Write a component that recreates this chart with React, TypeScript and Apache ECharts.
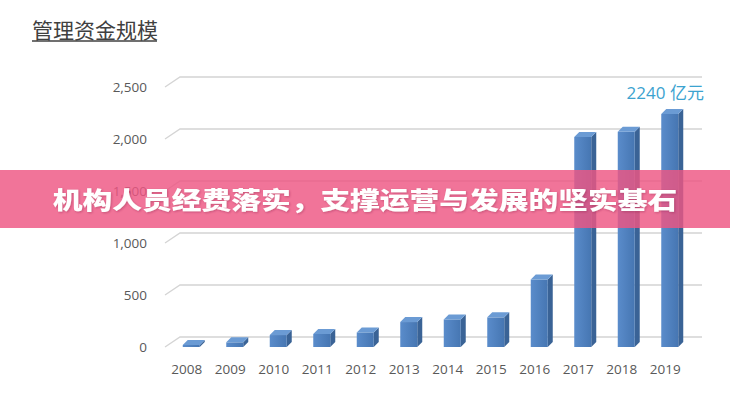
import React, { useEffect, useRef } from "react";
import * as echarts from "echarts";

const years = ["2008", "2009", "2010", "2011", "2012", "2013", "2014", "2015", "2016", "2017", "2018", "2019"];
const funds = [20, 45, 115, 125, 140, 240, 265, 285, 650, 2020, 2070, 2240];
const yTicks = [0, 500, 1000, 1500, 2000, 2500];
const chartTitle = "管理资金规模";
const bannerText = "机构人员经费落实，支撑运营与发展的坚实基石";
const unitText = "亿元";

export default function App() {
  const ref = useRef<HTMLDivElement>(null);
  useEffect(() => {
    if (!ref.current) return;
    const chart = echarts.init(ref.current, null, { renderer: "svg" });
    const lastIdx = funds.length - 1;
    const option = {
      animation: false,
      backgroundColor: "#ffffff",
      grid: { left: 165, right: 43, top: 87, bottom: 53 },
      xAxis: {
        type: "category",
        data: years,
        axisLine: { show: false },
        axisTick: { show: false },
        axisLabel: { color: "#595959", fontSize: 13.5, margin: 15, fontFamily: "Open Sans" },
      },
      yAxis: {
        type: "value",
        min: 0,
        max: 2500,
        interval: 500,
        splitLine: { show: false },
        axisLine: { show: false },
        axisTick: { show: false },
        axisLabel: {
          color: "#595959",
          fontSize: 13.5,
          margin: 18,
          fontFamily: "Open Sans",
          formatter: (v: number) => v.toLocaleString("en-US"),
        },
      },
      series: [
        {
          type: "custom",
          z: 1,
          silent: true,
          data: yTicks.map((t) => [0, t]),
          renderItem: (params: any, api: any) => {
            const cs = params.coordSys;
            const y = api.coord([0, api.value(1)])[1];
            return {
              type: "polyline",
              shape: {
                points: [
                  [cs.x, y],
                  [cs.x + 15, y - 10],
                  [cs.x + cs.width + 15, y - 10],
                ],
              },
              style: { stroke: "#d4d4d4", lineWidth: 1.3, fill: null },
            };
          },
        },
        {
          type: "custom",
          z: 5,
          data: funds.map((v, i) => [i, v]),
          renderItem: (params: any, api: any) => {
            const i = api.value(0);
            const v = api.value(1);
            const [cx, yTop] = api.coord([i, v]);
            const y0 = api.coord([i, 0])[1];
            const l = cx - 4;
            const r = cx + 13;
            const d = 5;
            const children: any[] = [
              {
                type: "polygon",
                shape: { points: [[r, yTop], [r + d, yTop - d], [r + d, y0 - d], [r, y0]] },
                style: { fill: "#3a6396" },
              },
              {
                type: "rect",
                shape: { x: l, y: yTop, width: r - l, height: y0 - yTop },
                style: {
                  fill: new echarts.graphic.LinearGradient(0, 0, 1, 0, [
                    { offset: 0, color: "#5a8ccb" },
                    { offset: 1, color: "#4676b2" },
                  ]),
                },
              },
              {
                type: "polygon",
                shape: { points: [[l, yTop], [l + d, yTop - d], [r + d, yTop - d], [r, yTop]] },
                style: { fill: "#6b9bd4" },
              },
            ];
            if (params.dataIndex === lastIdx) {
              children.push({
                type: "text",
                x: cx,
                y: yTop - 22,
                style: {
                  text: `${v} ${unitText}`,
                  fill: "#3ba3d0",
                  font: "17px 'Open Sans', 'Noto Sans CJK SC', sans-serif",
                  align: "center",
                  verticalAlign: "middle",
                },
              });
            }
            return { type: "group", children };
          },
        },
      ],
      graphic: [
        {
          type: "text",
          left: 32,
          top: 18,
          style: {
            text: chartTitle,
            fill: "#404040",
            font: "21px 'Noto Sans CJK SC', sans-serif",
          },
        },
        {
          type: "line",
          shape: { x1: 32, y1: 41, x2: 157, y2: 41 },
          style: { stroke: "#404040", lineWidth: 1.5 },
        },
        {
          type: "rect",
          shape: { x: 0, y: 170, width: 730, height: 58 },
          style: { fill: "rgba(238,86,130,0.82)" },
          z: 100,
        },
        {
          type: "text",
          x: 365,
          y: 199,
          scaleX: 1.24,
          z: 101,
          style: {
            text: bannerText,
            fill: "#ffffff",
            font: "900 24px 'Noto Sans CJK SC', sans-serif",
            align: "center",
            verticalAlign: "middle",
            textShadowColor: "rgba(120,20,60,0.35)",
            textShadowBlur: 2,
            textShadowOffsetX: 1,
            textShadowOffsetY: 1,
          },
        },
      ],
    };
    chart.setOption(option as any);
    return () => chart.dispose();
  }, []);
  return (
    <div
      ref={ref}
      style={{ position: "fixed", left: 0, top: 0, width: 730, height: 400 }}
    />
  );
}
